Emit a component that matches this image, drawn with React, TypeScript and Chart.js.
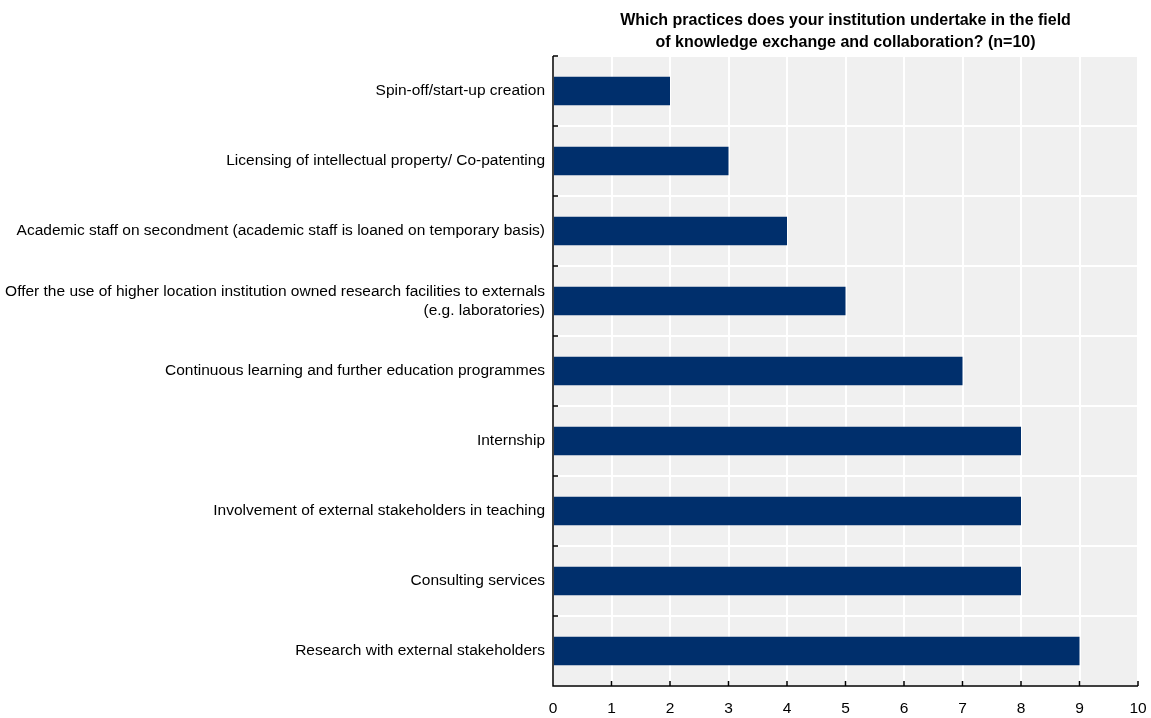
import React, { useEffect, useRef } from "react";
import { Chart, registerables } from "chart.js";

Chart.register(...registerables);

const categories: (string | string[])[] = [
  "Spin-off/start-up creation",
  "Licensing of intellectual property/ Co-patenting",
  "Academic staff on secondment (academic staff is loaned on temporary basis)",
  ["Offer the use of higher location institution owned research facilities to externals", "(e.g. laboratories)"],
  "Continuous learning and further education programmes",
  "Internship",
  "Involvement of external stakeholders in teaching",
  "Consulting services",
  "Research with external stakeholders",
];
const values = [2, 3, 4, 5, 7, 8, 8, 8, 9];
const xTicks = [0, 1, 2, 3, 4, 5, 6, 7, 8, 9, 10];
const titleLines = [
  "Which practices does your institution undertake in the field",
  "of knowledge exchange and collaboration? (n=10)",
];

const FONT = "'Liberation Sans Narrow', 'Arial Narrow', 'Liberation Sans', Arial, sans-serif";

const bgPlugin = {
  id: "bgArea",
  beforeDraw(chart: any) {
    const { ctx, chartArea } = chart;
    ctx.save();
    ctx.fillStyle = "#f0f0f0";
    ctx.fillRect(chartArea.left, chartArea.top, chartArea.right - chartArea.left, chartArea.bottom - chartArea.top);
    ctx.restore();
  },
};

const axisPlugin = {
  id: "axisTicks",
  afterDraw(chart: any) {
    const { ctx, chartArea } = chart;
    const x = chart.scales.x;
    const y = chart.scales.y;
    ctx.save();
    ctx.strokeStyle = "#000";
    ctx.lineWidth = 1.5;
    ctx.beginPath();
    ctx.moveTo(chartArea.left, chartArea.top);
    ctx.lineTo(chartArea.left, chartArea.bottom);
    ctx.lineTo(chartArea.right, chartArea.bottom);
    xTicks.forEach((v) => {
      const px = x.getPixelForValue(v);
      ctx.moveTo(px, chartArea.bottom);
      ctx.lineTo(px, chartArea.bottom - 5);
    });
    for (let i = 0; i <= categories.length; i++) {
      const py = y.getPixelForValue(i - 0.5);
      ctx.moveTo(chartArea.left, py);
      ctx.lineTo(chartArea.left + 5, py);
    }
    ctx.stroke();
    ctx.restore();
  },
};

export default function App() {
  const ref = useRef<HTMLCanvasElement | null>(null);
  useEffect(() => {
    if (!ref.current) return;
    const chart = new Chart(ref.current, {
      type: "bar",
      data: {
        labels: categories,
        datasets: [
          {
            data: values,
            backgroundColor: "#002f6c",
            borderWidth: 0,
            barPercentage: 0.41,
            categoryPercentage: 1,
          },
        ],
      },
      options: {
        indexAxis: "y",
        animation: false,
        responsive: false,
        devicePixelRatio: 1,
        layout: { padding: { left: 0, right: 13, top: 0, bottom: 0 } },
        plugins: {
          legend: { display: false },
          tooltip: { enabled: false },
          title: {
            display: true,
            text: titleLines,
            fullSize: false,
            color: "#000",
            font: { family: FONT, size: 16, weight: "bold", lineHeight: 1.375 },
            padding: { top: 10, bottom: 2 },
          },
        },
        scales: {
          x: {
            type: "linear",
            min: 0,
            max: 10,
            afterFit: (s: any) => {
              s.height = 32;
              s.paddingLeft = 0;
              s.paddingRight = 0;
            },
            afterBuildTicks: (s: any) => {
              s.ticks = xTicks.map((v) => ({ value: v }));
            },
            ticks: {
              color: "#000",
              font: { family: FONT, size: 15.5 },
              padding: 13,
            },
            grid: { color: "#ffffff", lineWidth: 2, drawTicks: false },
            border: { display: false },
          },
          y: {
            type: "category",
            afterFit: (s: any) => {
              s.width = 553;
              s.paddingTop = 0;
              s.paddingBottom = 0;
            },
            ticks: {
              color: "#000",
              font: { family: FONT, size: 15.5 },
              padding: 8,
            },
            grid: { color: "#ffffff", lineWidth: 2, offset: true, drawTicks: false },
            border: { display: false },
          },
        },
      },
      plugins: [bgPlugin, axisPlugin],
    });
    return () => chart.destroy();
  }, []);
  return (
    <div style={{ position: "fixed", left: 0, top: 0, width: 1151, height: 718, background: "#fff" }}>
      <canvas ref={ref} width={1151} height={718} style={{ width: 1151, height: 718 }} />
    </div>
  );
}
